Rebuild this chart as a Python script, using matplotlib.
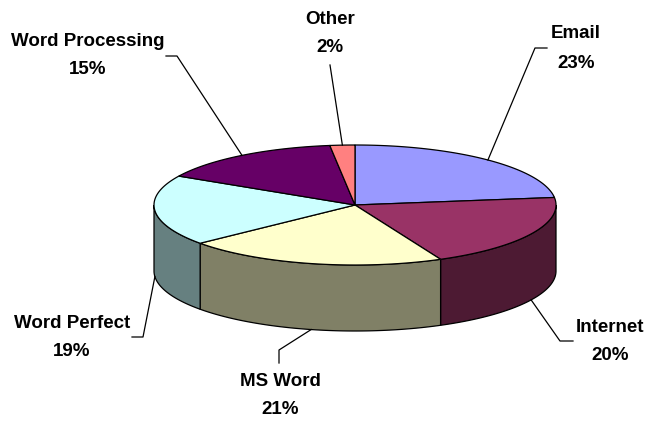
import matplotlib

matplotlib.use("Agg")

import matplotlib.pyplot as plt
import numpy as np
from matplotlib.patches import Polygon

# data
labels = ["Email", "Internet", "MS Word", "Word Perfect", "Word Processing", "Other"]
shares = [23, 20, 21, 19, 15, 2]
colors = ["#9999FF", "#993366", "#FFFFCC", "#CCFFFF", "#660066", "#FF8080"]

# geometry of the pie, in pixels (y goes down)
CX, CY = 355, 205
RX, RY = 201, 60
DEPTH = 66

# label centre x, name line y, percent line y
label_pos = {
    "Email": (576, 34, 63),
    "Internet": (610, 327, 355),
    "MS Word": (280, 381, 410),
    "Word Perfect": (72, 323, 352),
    "Word Processing": (88, 41, 69),
    "Other": (330, 20, 48),
}
# elbow points of the leader lines
elbows = {
    "Email": [(547, 48), (535, 48)],
    "Internet": [(573, 341), (560, 341)],
    "MS Word": [(279, 363), (279, 350)],
    "Word Perfect": [(132, 337), (143, 337)],
    "Word Processing": [(166, 56), (177, 56)],
    "Other": [(330, 65)],
}


def rim(t):
    """Point on the top ellipse for angle t (degrees, clockwise from 12 o'clock)."""
    r = np.radians(t)
    return CX + RX * np.sin(r), CY - RY * np.cos(r)


def shade(hex_color, k=0.5):
    c = np.array(matplotlib.colors.to_rgb(hex_color))
    return tuple(c * k)


fig = plt.figure(figsize=(6.51, 4.22), dpi=100)
ax = fig.add_axes([0, 0, 1, 1])
ax.set_xlim(0, 651)
ax.set_ylim(422, 0)
ax.axis("off")

edges = np.concatenate([[0], np.cumsum(shares)]) / sum(shares) * 360.0

# side walls (front half only)
for i, color in enumerate(colors):
    a0 = max(edges[i], 90)
    a1 = min(edges[i + 1], 270)
    if a1 <= a0:
        continue
    ts = np.linspace(a0, a1, 80)
    xs, ys = rim(ts)
    pts = list(zip(xs, ys)) + list(zip(xs[::-1], ys[::-1] + DEPTH))
    ax.add_patch(Polygon(pts, closed=True, facecolor=shade(color), edgecolor="black", lw=0.9))

# top face
for i, color in enumerate(colors):
    ts = np.linspace(edges[i], edges[i + 1], 120)
    xs, ys = rim(ts)
    pts = [(CX, CY)] + list(zip(xs, ys))
    ax.add_patch(Polygon(pts, closed=True, facecolor=color, edgecolor="black", lw=0.9))

# labels with leader lines
font = dict(ha="center", va="center", fontsize=13.5, fontweight="bold", family="Liberation Sans")
for i, name in enumerate(labels):
    mid = (edges[i] + edges[i + 1]) / 2
    px, py = rim(mid)
    if np.cos(np.radians(mid)) < 0:
        py += DEPTH
    path = elbows[name] + [(px, py)]
    ax.plot([p[0] for p in path], [p[1] for p in path], color="black", lw=0.9)
    tx, ty1, ty2 = label_pos[name]
    ax.text(tx, ty1, name, **font)
    ax.text(tx, ty2, f"{shares[i]}%", **font)

fig.savefig("out.png", dpi=100)
